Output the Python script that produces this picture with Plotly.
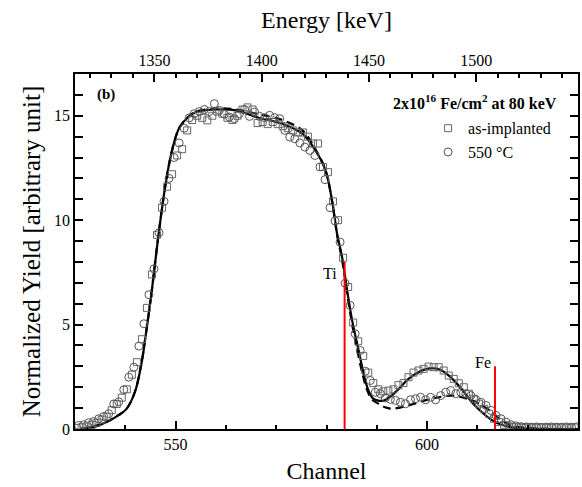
import plotly.graph_objects as go

# ---------------- data ----------------
channel = list(range(530, 630))

# 550 °C (circles), read at channel + ~0.7
circle_offset = 0.7
yield_550 = [0.17, 0.20, 0.30, 0.36, 0.49, 0.60, 0.73, 1.20, 1.30, 1.88,
             2.48, 2.96, 3.97, 5.04, 6.43, 7.67, 9.40, 10.90, 12.00, 13.00,
             13.70, 14.40, 14.90, 15.10, 15.20, 15.30, 15.20, 15.58, 15.26, 15.07,
             14.94, 14.86, 15.10, 15.30, 14.97, 15.18, 14.97, 14.91, 15.02, 14.91,
             14.86, 14.30, 13.98, 13.90, 13.70, 13.50, 13.34, 13.10, 12.55, 11.94,
             10.60, 9.96, 8.95, 6.98, 5.92, 4.56, 3.76, 2.77, 2.32, 1.76,
             1.69, 1.49, 1.42, 1.37, 1.28, 1.21, 1.40, 1.45, 1.52, 1.40,
             1.52, 1.40, 1.60, 1.76, 1.84, 1.69, 1.76, 1.69, 1.60, 1.40,
             1.28, 1.13, 0.89, 0.65, 0.49, 0.33, 0.20, 0.15, 0.11, 0.10,
             0.09, 0.10, 0.08, 0.09, 0.10, 0.09, 0.08, 0.10, 0.09, 0.10]

# as-implanted (squares), read at channel + ~0.3
square_offset = 0.3
yield_asimp = [0.05, 0.08, 0.12, 0.20, 0.30, 0.45, 0.60, 0.90, 1.20, 1.50,
               1.90, 2.60, 3.20, 4.30, 5.80, 7.40, 9.30, 10.60, 11.60, 12.20,
               13.10, 13.40, 14.30, 14.80, 15.00, 14.90, 14.78, 15.00, 15.20, 15.10,
               14.90, 14.80, 15.00, 15.30, 15.40, 15.30, 14.65, 14.70, 14.60, 14.70,
               14.60, 14.50, 14.40, 14.30, 14.20, 14.20, 14.00, 13.67, 13.67, 12.55,
               12.30, 10.90, 10.00, 8.20, 6.80, 5.10, 4.20, 3.50, 2.70, 2.20,
               1.90, 1.80, 1.84, 1.90, 2.10, 2.20, 2.48, 2.70, 2.80, 2.88,
               2.99, 2.96, 2.96, 2.80, 2.56, 2.40, 2.19, 2.00, 1.69, 1.45,
               1.21, 0.97, 0.73, 0.49, 0.33, 0.20, 0.12, 0.09, 0.08, 0.07,
               0.08, 0.07, 0.08, 0.07, 0.06, 0.07, 0.08, 0.07, 0.06, 0.07]

# fit curves
fit_solid_ch = [531, 533.6, 536.9, 538.6, 540.2, 541.9, 543.2, 544.2, 545.2, 546.5,
                547.8, 548.8, 549.8, 550.8, 552.8, 554.1, 558, 562, 566, 571.2,
                575.2, 577.8, 579.8, 581.1, 582.1, 583.1, 584.1, 585.1, 586.1, 587.1,
                588.1, 589.1, 590.1, 591.4, 592.7, 594.4, 596.3, 598.3, 600.5, 602.5,
                604.5, 606.9, 608.9, 610.9, 612.8, 614.8, 616.8, 620, 630]
fit_solid_y = [0.0, 0.09, 0.41, 0.65, 0.95, 1.76, 3.12, 4.72, 6.48, 9.1,
               11.4, 12.8, 13.8, 14.45, 15.0, 15.18, 15.3, 15.26, 14.94, 14.62,
               14.14, 13.34, 12.39, 10.95, 9.35, 8.23, 6.64, 5.2, 4.08, 2.96,
               2.0, 1.5, 1.37, 1.36, 1.55, 1.93, 2.4, 2.72, 2.9, 2.85,
               2.52, 1.9, 1.28, 0.8, 0.44, 0.2, 0.08, 0.02, 0.0]

fit_dash_ch = [531, 533.6, 536.9, 538.6, 540.2, 541.9, 543.2, 544.2, 545.2, 546.5,
               547.8, 548.8, 549.8, 550.8, 552.8, 554.1, 558, 562, 566, 571.2,
               575.2, 577.8, 579.8, 581.1, 582.1, 583.1, 584.1, 585.1, 586.1, 587.1,
               588.1, 589.1, 590.4, 591.5, 593, 596.3, 599.6, 602.3, 604.9, 606.9,
               608.9, 610.9, 612.9, 614.8, 616.8, 619.4, 630]
fit_dash_y = [0.0, 0.1, 0.42, 0.66, 0.95, 1.78, 3.15, 4.75, 6.5, 9.1,
              11.4, 12.8, 13.8, 14.45, 15.0, 15.2, 15.35, 15.3, 15.1, 14.8,
              14.3, 13.4, 12.4, 10.9, 9.3, 8.1, 6.5, 5.0, 3.8, 2.7,
              1.85, 1.4, 1.2, 1.05, 0.97, 1.13, 1.37, 1.52, 1.6, 1.52,
              1.37, 1.13, 0.8, 0.41, 0.17, 0.06, 0.0]

# surface edge markers
edge_labels = ["Ti", "Fe"]
edge_channel = [583.6, 613.5]
edge_height = [8.0, 3.0]

# axes
channel_range = [530, 630]
energy_range = [1313.0, 1547.4]
yield_range = [0, 17]

FONT = "Liberation Serif"

fig = go.Figure()

fig.add_trace(go.Scatter(
    x=fit_solid_ch, y=fit_solid_y, mode="lines", line_shape="spline",
    line=dict(color="black", width=2.2), showlegend=False, hoverinfo="skip"))
fig.add_trace(go.Scatter(
    x=fit_dash_ch, y=fit_dash_y, mode="lines", line_shape="spline",
    line=dict(color="black", width=2.2, dash="8px,5px"), showlegend=False, hoverinfo="skip"))

fig.add_trace(go.Scatter(
    x=[c + square_offset for c in channel], y=yield_asimp, mode="markers",
    name="as-implanted",
    marker=dict(symbol="square-open", size=7, color="#666666", line=dict(width=1))))
fig.add_trace(go.Scatter(
    x=[c + circle_offset for c in channel], y=yield_550, mode="markers",
    name="550 °C",
    marker=dict(symbol="circle-open", size=8, color="#555555", line=dict(width=1))))

for lab, ch, h in zip(edge_labels, edge_channel, edge_height):
    fig.add_trace(go.Scatter(x=[ch, ch], y=[0, h], mode="lines",
                             line=dict(color="red", width=2), showlegend=False,
                             hoverinfo="skip"))

fig.add_annotation(x=edge_channel[0] - 3.0, y=7.47, text="Ti", showarrow=False,
                   font=dict(family=FONT, size=16, color="black"))
fig.add_annotation(x=edge_channel[1] - 2.4, y=3.2, text="Fe", showarrow=False,
                   font=dict(family=FONT, size=16, color="black"))

# invisible trace for top axis
fig.add_trace(go.Scatter(x=energy_range, y=[None, None], xaxis="x2", mode="lines",
                         showlegend=False, hoverinfo="skip"))

fig.add_annotation(xref="paper", yref="paper", x=0.04, y=0.941, text="<b>(b)</b>",
                   showarrow=False, xanchor="left", yanchor="middle",
                   font=dict(family=FONT, size=15, color="black"))
fig.add_annotation(xref="paper", yref="paper", x=0.962, y=0.921,
                   text="<b>2x10<sup>16</sup> Fe/cm<sup>2</sup> at 80 keV</b>",
                   showarrow=False, xanchor="right", yanchor="middle",
                   font=dict(family=FONT, size=16, color="black"))

axis_common = dict(showline=True, linecolor="black", linewidth=1.5, ticks="inside",
                   ticklen=8, tickwidth=1.5, tickcolor="black", showgrid=False,
                   zeroline=False, tickfont=dict(family=FONT, size=16, color="black"))

fig.update_layout(
    width=582, height=487,
    margin=dict(l=75, r=2, t=74, b=58),
    plot_bgcolor="white", paper_bgcolor="white",
    font=dict(family=FONT, color="black"),
    xaxis=dict(range=channel_range, dtick=50, tick0=0,
               minor=dict(dtick=10, ticklen=4, ticks="inside", tickcolor="black", tickwidth=1.5),
               title=dict(text="Channel", font=dict(family=FONT, size=24), standoff=10),
               **axis_common),
    xaxis2=dict(range=energy_range, overlaying="x", side="top", dtick=50, tick0=1350,
                minor=dict(dtick=10, ticklen=4, ticks="inside", tickcolor="black", tickwidth=1.5),
                title=dict(text="Energy [keV]", font=dict(family=FONT, size=24), standoff=16),
                **axis_common),
    yaxis=dict(range=yield_range, dtick=5, mirror="allticks",
               minor=dict(dtick=1, ticklen=4, ticks="inside", tickcolor="black", tickwidth=1.5),
               title=dict(text="Normalized Yield [arbitrary unit]", font=dict(family=FONT, size=25),
                          standoff=6),
               **axis_common),
    legend=dict(x=0.702, y=0.895, xanchor="left", yanchor="top",
                font=dict(family=FONT, size=16, color="black"),
                bgcolor="rgba(0,0,0,0)", tracegroupgap=0, itemwidth=30),
    showlegend=True,
)

fig.write_html("out.html")
